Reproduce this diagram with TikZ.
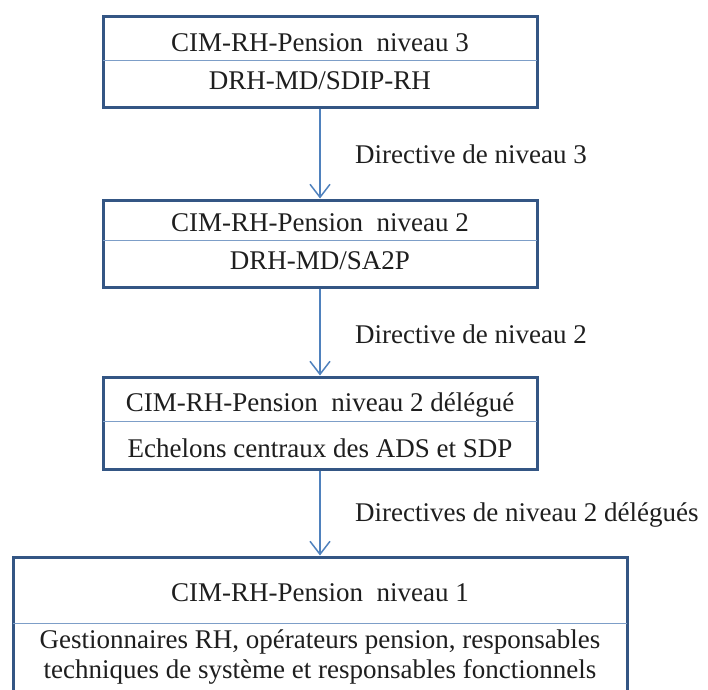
\documentclass[tikz,border=0pt]{standalone}
\usepackage{fontspec}
\setmainfont{Liberation Serif}
\usetikzlibrary{arrows.meta}
\definecolor{boxblue}{RGB}{52,86,132}
\definecolor{divblue}{RGB}{125,158,200}
\definecolor{arrblue}{RGB}{79,129,189}
\definecolor{txtcol}{RGB}{30,30,30}
\begin{document}
\begin{tikzpicture}[x=1pt,y=-1pt,
  box/.style={draw=boxblue, line width=3pt, fill=white, inner sep=0pt},
  divider/.style={draw=divblue, line width=1pt},
  link/.style={draw=arrblue, line width=1.5pt, -{Straight Barb[length=13pt,width=20pt,line width=1.5pt]}},
  txt/.style={font=\fontsize{27}{30}\selectfont, text=txtcol, inner sep=0pt, anchor=base},
  lbl/.style={font=\fontsize{27}{30}\selectfont, text=txtcol, inner sep=0pt, anchor=base west}]
\useasboundingbox (0,0) rectangle (708,689);
% boxes
\node[box, minimum width=434pt, minimum height=91pt] (b1) at (320,61.5) {};
\node[box, minimum width=434pt, minimum height=87pt] (b2) at (320,243.5) {};
\node[box, minimum width=434pt, minimum height=92pt] (b3) at (320,423) {};
\node[box, minimum width=614pt, minimum height=163pt] (b4) at (320,638.5) {};
% dividers
\draw[divider] ([xshift=1.5pt,yshift=-46pt]b1.north west) -- ([xshift=-1.5pt,yshift=-46pt]b1.north east);
\draw[divider] ([xshift=1.5pt,yshift=-42pt]b2.north west) -- ([xshift=-1.5pt,yshift=-42pt]b2.north east);
\draw[divider] ([xshift=1.5pt,yshift=-46pt]b3.north west) -- ([xshift=-1.5pt,yshift=-46pt]b3.north east);
\draw[divider] ([xshift=1.5pt,yshift=-68pt]b4.north west) -- ([xshift=-1.5pt,yshift=-68pt]b4.north east);
% texts
\node[txt] (t1a) at (320,51.5) {CIM-RH-Pension~ niveau 3};
\node[txt] (t1b) at (320,89.5) {DRH-MD/SDIP-RH};
\node[txt] (t2a) at (320,231.5) {CIM-RH-Pension~ niveau 2};
\node[txt] (t2b) at (320,269.5) {DRH-MD/SA2P};
\node[txt] (t3a) at (320,411.5) {CIM-RH-Pension~ niveau 2 délégué};
\node[txt] (t3b) at (320,457.5) {Echelons centraux des ADS et SDP};
\node[txt] (t4a) at (320,601.5) {CIM-RH-Pension~ niveau 1};
\node[txt] (t4b) at (320,648.5) {Gestionnaires RH, opérateurs pension, responsables};
\node[txt] (t4c) at (320,678.5) {techniques de système et responsables fonctionnels};
% connectors
\draw[link] (b1.south) -- (b2.north);
\draw[link] (b2.south) -- (b3.north);
\draw[link] (b3.south) -- (b4.north);
% labels
\node[lbl] (l1) at (355,163) {Directive de niveau 3};
\node[lbl] (l2) at (355,343) {Directive de niveau 2};
\node[lbl] (l3) at (355,521) {Directives de niveau 2 délégués};
\end{tikzpicture}
\end{document}
